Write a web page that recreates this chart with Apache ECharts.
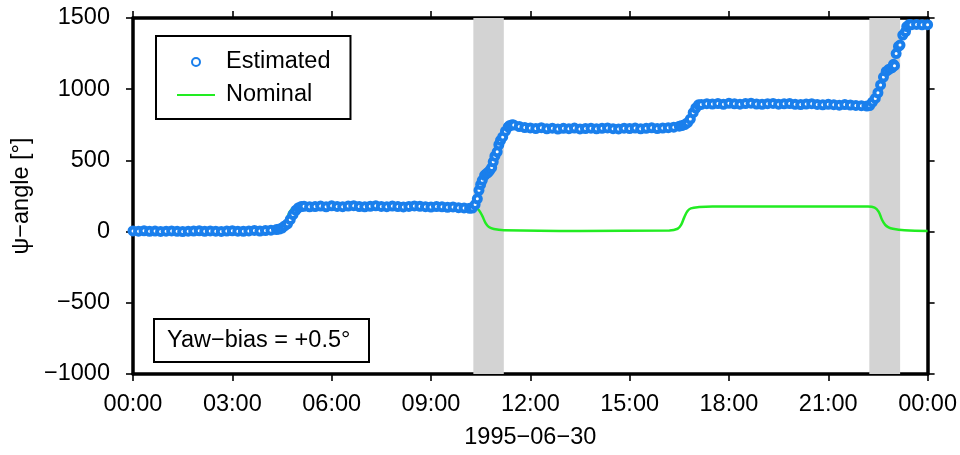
<!DOCTYPE html>
<html>
<head>
<meta charset="utf-8">
<script src="https://cdn.jsdelivr.net/npm/echarts@6/dist/echarts.min.js"></script>
<style>
    html, body {margin: 0; padding: 0; background: #fff;}
    #chart {width: 960px; height: 455px;}
</style>
</head>
<body>
<div id="chart"></div>
<script>
// estimated psi-angle, one value every 10 minutes from 00:00 to 24:00
var estStepMin = 10;
var estValues = [
    5, 3, 6, 2, 4, 1, 3, 5, 2, 0, 3, 4, 6, 2, 5, 3, 1, 4, 6, 3, 2, 5, 8, 4, 7, 10, 14,
    25, 55, 120, 168, 178, 174,
    176, 179, 174, 181, 177, 175, 179, 182, 176, 174, 178, 181, 177, 175, 179, 176, 173, 177, 180, 178,
    175, 172, 176, 174, 171, 173, 168, 166, 164,
    190, 330, 405, 450, 560, 665, 735, 748, 738, 731,
    728, 724, 730, 722, 726, 720, 725, 723, 727, 721, 724, 726, 722, 725, 728, 723, 721, 726, 724, 727,
    722, 725, 729, 724, 727, 730, 733,
    740, 752, 790, 868, 893, 898,
    896, 899, 894, 901, 897, 895, 899, 902, 896, 894, 898, 900, 895, 897, 899, 894, 892, 896, 898, 893,
    890, 894, 891, 888, 892, 889, 886, 884,
    882, 910, 975, 1085, 1140, 1165, 1310, 1405, 1452, 1455, 1452, 1453
];
// extra estimates read inside the turns, where the samples are denser
var turnHours = [4.42, 4.58, 4.75, 4.92, 5.08,
    10.25, 10.4, 10.45, 10.55, 10.62, 10.72, 10.78, 10.88, 10.93, 11.05, 11.1, 11.25, 11.38, 11.45,
    16.58, 16.75, 16.92, 17.08,
    22.25, 22.42, 22.58, 22.75, 22.92, 22.97, 23.05, 23.12, 23.25, 23.37, 23.45];
var turnValues = [18, 40, 85, 150, 176,
    165, 230, 290, 360, 395, 415, 430, 490, 530, 610, 640, 705, 745, 750,
    745, 765, 835, 890,
    885, 935, 1030, 1125, 1150, 1175, 1250, 1300, 1380, 1440, 1455];

// nominal attitude (hour, degrees)
var nomHours = [0, 4.3, 4.45, 4.55, 4.65, 4.75, 4.85, 5.0, 5.3, 10.25, 10.35, 10.45, 10.55, 10.65, 10.75, 10.9, 11.2, 13.5,
    16.2, 16.45, 16.55, 16.65, 16.75, 16.85, 17.1, 17.5, 22.2, 22.4, 22.52, 22.62, 22.72, 22.82, 22.95, 23.3, 24];
var nomValues = [0, 0, 5, 30, 90, 145, 165, 173, 176, 175, 168, 150, 110, 60, 32, 18, 10, 5,
    8, 20, 45, 100, 145, 163, 172, 176, 176, 168, 140, 85, 47, 30, 20, 10, 5];

// eclipse / noon-turn windows (hours)
var shadeStart = [10.28, 22.24];
var shadeEnd = [11.2, 23.17];

var yTicks = {min: -1000, max: 1500, step: 500};
var xTicks = {min: 0, max: 24, step: 3};

var blue = '#1a7fec';
var green = '#22ec22';
var font = "'Liberation Sans', Arial, Helvetica, sans-serif";
var fs = 23.5;

var estData = [];
for (var i = 0; i < estValues.length; i++) {
    estData.push([i * estStepMin / 60, estValues[i]]);
}
for (var t = 0; t < turnHours.length; t++) {
    estData.push([turnHours[t], turnValues[t]]);
}
estData.sort(function (a, b) {
    return a[0] - b[0];
});
var nomData = [];
for (var j = 0; j < nomHours.length; j++) {
    nomData.push([nomHours[j], nomValues[j]]);
}
var shadeAreas = [];
for (var k = 0; k < shadeStart.length; k++) {
    shadeAreas.push([{xAxis: shadeStart[k]}, {xAxis: shadeEnd[k]}]);
}

function hourLabel(v) {
    var h = Math.round(v) % 24;
    return (h < 10 ? '0' : '') + h + ':00';
}

var axisLine = {onZero: false, lineStyle: {color: '#000', width: 3.5}};
var axisTick = {length: 7, lineStyle: {color: '#000', width: 1.6}};

var chart = echarts.init(document.getElementById('chart'));
chart.setOption({
    animation: false,
    textStyle: {fontFamily: font},
    grid: {left: 133, right: 32, top: 18, bottom: 78},
    title: {
        text: 'Yaw\u2212bias = +0.5\u00b0',
        left: 154,
        top: 319,
        padding: [10, 19, 9, 13],
        borderColor: '#000',
        borderWidth: 2,
        backgroundColor: '#fff',
        textStyle: {fontFamily: font, fontSize: fs, fontWeight: 'normal', color: '#000'}
    },
    legend: {
        orient: 'vertical',
        left: 156,
        top: 36,
        padding: [14, 20, 12, 21],
        itemGap: 9,
        itemWidth: 38,
        itemHeight: 8,
        borderColor: '#000',
        borderWidth: 2,
        backgroundColor: '#fff',
        textStyle: {fontFamily: font, fontSize: fs, color: '#000', padding: [0, 0, 0, 6]},
        data: [
            {name: 'Estimated', icon: 'circle'},
            {name: 'Nominal', icon: 'path://M0,0L38,0L38,2L0,2Z'}
        ]
    },
    xAxis: [
        {
            type: 'value',
            min: xTicks.min,
            max: xTicks.max,
            interval: xTicks.step,
            name: '1995\u221206\u221230',
            nameLocation: 'middle',
            nameGap: 52,
            nameTextStyle: {fontFamily: font, fontSize: fs, color: '#000'},
            axisLine: axisLine,
            axisTick: axisTick,
            splitLine: {show: false},
            axisLabel: {fontFamily: font, fontSize: fs, color: '#000', margin: 19, formatter: hourLabel}
        },
        {
            type: 'value',
            position: 'top',
            min: xTicks.min,
            max: xTicks.max,
            interval: xTicks.step,
            axisLine: axisLine,
            axisTick: axisTick,
            splitLine: {show: false},
            axisLabel: {show: false}
        }
    ],
    yAxis: [
        {
            type: 'value',
            min: yTicks.min,
            max: yTicks.max,
            interval: yTicks.step,
            name: '\u03c8\u2212angle [\u00b0]',
            nameLocation: 'middle',
            nameGap: 88,
            nameTextStyle: {fontFamily: font, fontSize: fs, color: '#000'},
            axisLine: axisLine,
            axisTick: axisTick,
            splitLine: {show: false},
            axisLabel: {
                fontFamily: font, fontSize: fs, color: '#000', margin: 23,
                formatter: function (v) {
                    return String(v).replace('-', '\u2212');
                }
            }
        },
        {
            type: 'value',
            position: 'right',
            min: yTicks.min,
            max: yTicks.max,
            interval: yTicks.step,
            axisLine: axisLine,
            axisTick: axisTick,
            splitLine: {show: false},
            axisLabel: {show: false}
        }
    ],
    series: [
        {
            name: 'Nominal',
            type: 'line',
            symbol: 'none',
            smooth: 0.4,
            data: nomData,
            z: 2,
            lineStyle: {color: green, width: 2.5},
            itemStyle: {color: green},
            markArea: {
                silent: true,
                itemStyle: {color: '#d3d3d3'},
                data: shadeAreas
            }
        },
        {
            name: 'Estimated',
            type: 'scatter',
            symbol: 'circle',
            symbolSize: 7,
            data: estData,
            z: 3,
            itemStyle: {color: '#fff', borderColor: blue, borderWidth: 4, opacity: 1}
        }
    ]
});
</script>
</body>
</html>
